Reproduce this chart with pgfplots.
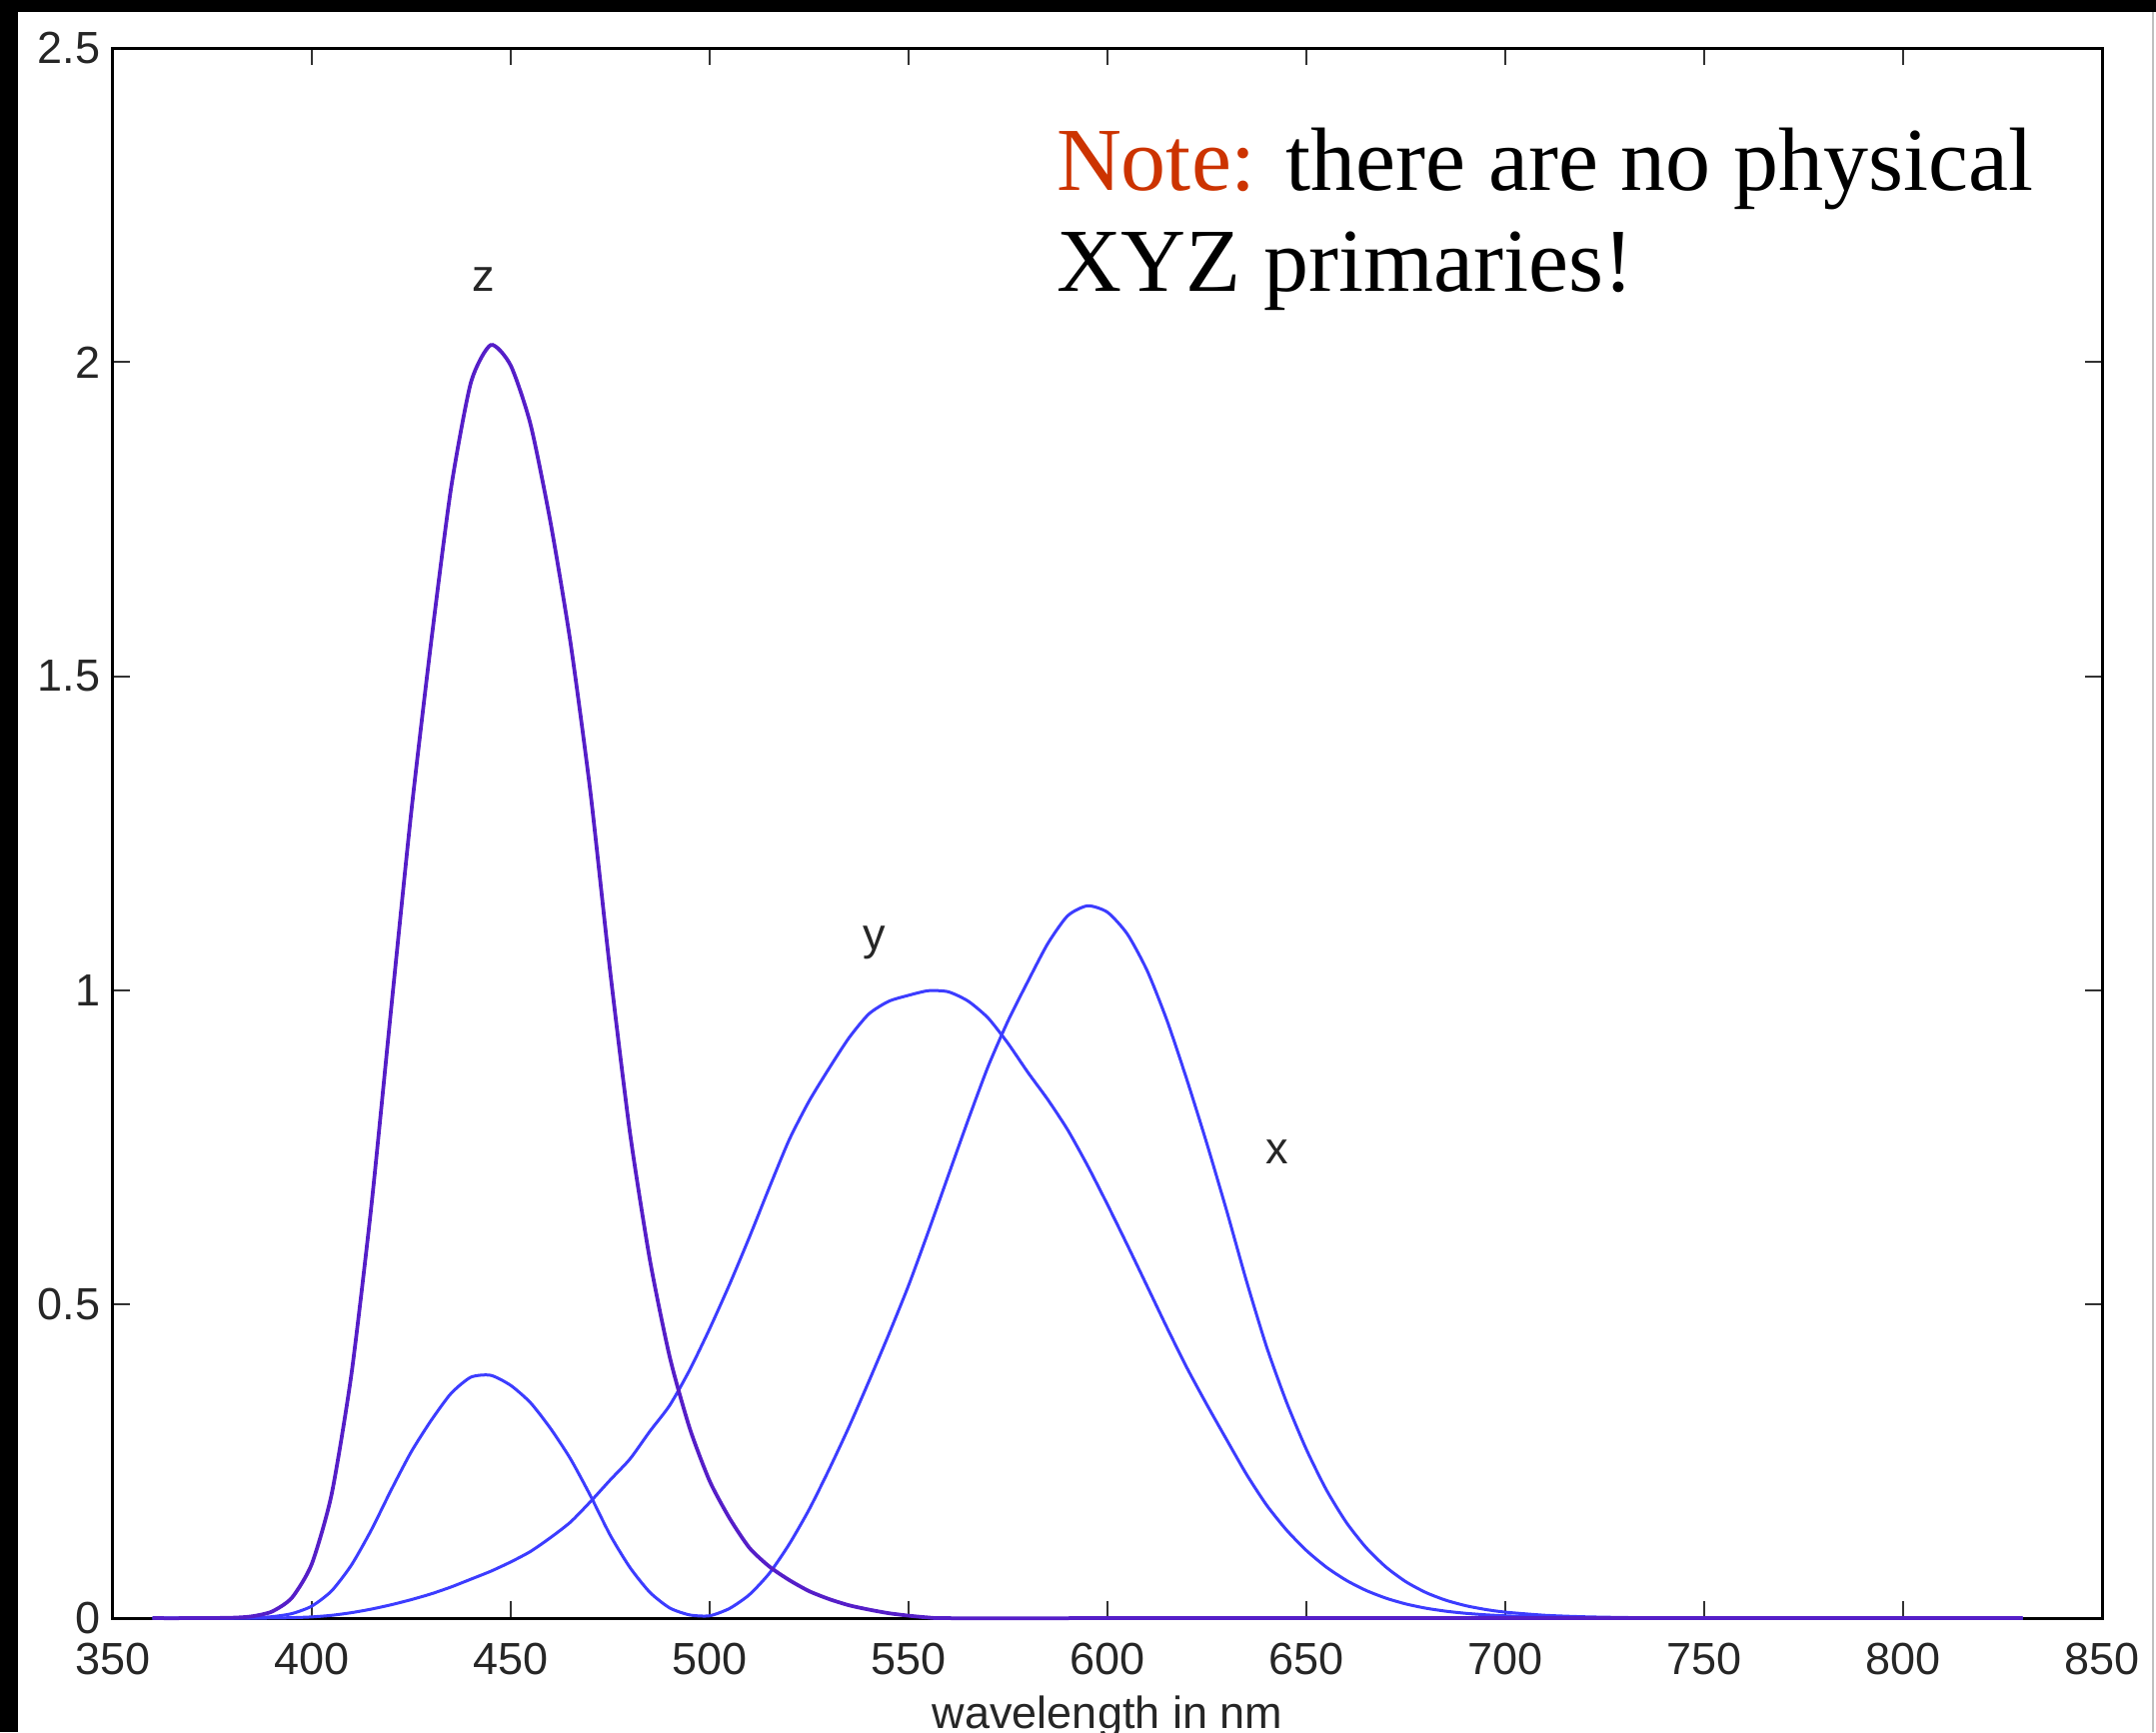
\documentclass[border=0pt]{standalone}
\usepackage{fontspec}
\setmainfont{Liberation Serif}
\newfontfamily\helv{Liberation Sans}
\usepackage{pgfplots}
\pgfplotsset{compat=1.18}
\usepackage{pgfplotstable}

\definecolor{notered}{RGB}{204,51,0}
\definecolor{zpurple}{RGB}{85,30,200}
\definecolor{cblue}{RGB}{60,60,255}

% colour matching functions (wavelength, value)
\pgfplotstableread{
lam val
360 0
370 0.000006
380 0.000160
385 0.000662
390 0.002362
395 0.007242
400 0.019110
405 0.043400
410 0.084736
415 0.140638
420 0.204492
425 0.264737
430 0.314679
435 0.357719
440 0.383734
445 0.386726
450 0.370702
455 0.342957
460 0.302273
465 0.254085
470 0.195618
475 0.132349
480 0.080507
485 0.041072
490 0.016172
495 0.005132
500 0.003816
505 0.015444
510 0.037465
515 0.071358
520 0.117749
525 0.172953
530 0.236491
535 0.304213
540 0.376772
545 0.451584
550 0.529826
555 0.616053
560 0.705224
565 0.793832
570 0.878655
575 0.951162
580 1.014160
585 1.074300
590 1.118520
595 1.134300
600 1.123990
605 1.089100
610 1.030480
615 0.950740
620 0.856297
625 0.754930
630 0.647467
635 0.535110
640 0.431567
645 0.343690
650 0.268329
655 0.204300
660 0.152568
665 0.112210
670 0.081261
675 0.057930
680 0.040851
685 0.028623
690 0.019941
695 0.013842
700 0.009577
710 0.004553
720 0.002175
730 0.001045
740 0.000508
750 0.000251
770 0.000065
790 0.000017
830 0
}\xbar

\pgfplotstableread{
lam val
360 0
370 0.000001
380 0.000017
385 0.000072
390 0.000253
395 0.000769
400 0.002004
405 0.004509
410 0.008756
415 0.014456
420 0.021391
425 0.029497
430 0.038676
435 0.049602
440 0.062077
445 0.074704
450 0.089456
455 0.106256
460 0.128201
465 0.152761
470 0.185190
475 0.219940
480 0.253589
485 0.297665
490 0.339133
495 0.395379
500 0.460777
505 0.531360
510 0.606741
515 0.685660
520 0.761757
525 0.823330
530 0.875211
535 0.923810
540 0.961988
545 0.982200
550 0.991761
555 0.999110
560 0.997340
565 0.982380
570 0.955552
575 0.915175
580 0.868934
585 0.825623
590 0.777405
595 0.720353
600 0.658341
605 0.593878
610 0.527963
615 0.461834
620 0.398057
625 0.339554
630 0.283493
635 0.228254
640 0.179828
645 0.140211
650 0.107633
655 0.081187
660 0.060281
665 0.044096
670 0.031800
675 0.022602
680 0.015905
685 0.011130
690 0.007749
695 0.005375
700 0.003718
710 0.001762
720 0.000846
730 0.000410
740 0.000200
750 0.000100
770 0.000030
830 0
}\ybar

\pgfplotstableread{
lam val
360 0
370 0.000030
380 0.000705
385 0.002928
390 0.010482
395 0.032344
400 0.086011
405 0.197120
410 0.389366
415 0.656760
420 0.972542
425 1.282500
430 1.553480
435 1.798500
440 1.967280
445 2.027300
450 1.994800
455 1.900700
460 1.745370
465 1.554900
470 1.317560
475 1.030200
480 0.772125
485 0.570060
490 0.415254
495 0.302356
500 0.218502
505 0.159249
510 0.112044
515 0.082248
520 0.060709
525 0.043050
530 0.030451
535 0.020584
540 0.013676
545 0.007918
550 0.003988
555 0.001091
560 0
600 0
700 0
830 0
}\zbar

\begin{document}
\begin{tikzpicture}
\path[use as bounding box] (0,0) rectangle (431.4pt,346.6pt);
\fill[black] (0,344.2pt) rectangle (431.4pt,346.6pt);
\fill[black] (0,0) rectangle (3.5pt,346.6pt);
\draw[black!25, line width=0.4pt] (430.8pt,0) -- (430.8pt,344.2pt);

\begin{axis}[
  at={(22.56pt,22.78pt)}, anchor=south west,
  scale only axis, width=398.1pt, height=314.2pt,
  xmin=350, xmax=850, ymin=0, ymax=2.5,
  xtick={350,400,...,850},
  ytick={0,0.5,1,1.5,2,2.5},
  yticklabels={0,0.5,1,1.5,2,2.5},
  tick align=inside, major tick length=3.4pt,
  axis line style={line width=0.6pt},
  every tick/.style={black!80, line width=0.4pt},
  /pgf/number format/assume math mode=true,
  tick label style={font=\helv\fontsize{9}{10}\selectfont, text=black!85},
  x tick label style={yshift=-1.4pt},
  y tick label style={xshift=1pt},
  xlabel={wavelength in nm},
  xlabel style={font=\helv\fontsize{9}{10}\selectfont, text=black!85,
    at={(axis description cs:0.5,0)}, anchor=base, yshift=-22pt},
  clip=false,
]
\addplot[cblue, line width=0.6pt, smooth, tension=0.4] table[x=lam, y=val] {\xbar};
\addplot[cblue, line width=0.6pt, smooth, tension=0.4] table[x=lam, y=val] {\ybar};
\addplot[zpurple, line width=0.75pt, smooth, tension=0.4] table[x=lam, y=val] {\zbar};

\node[font=\helv\fontsize{9}{10}\selectfont, text=black!85] at (axis cs:443.3,2.132) {z};
\node[font=\helv\fontsize{9}{10}\selectfont, text=black!85] at (axis cs:541.4,1.075) {y};
\node[font=\helv\fontsize{9}{10}\selectfont, text=black!85] at (axis cs:642.7,0.742) {x};
\end{axis}

\node[anchor=base west, inner sep=0, font=\fontsize{18}{20}\selectfont]
  at (211.2pt,308.6pt) {\textcolor{notered}{Note:} there are no physical};
\node[anchor=base west, inner sep=0, font=\fontsize{18}{20}\selectfont]
  at (211.2pt,288.3pt) {XYZ primaries!};
\end{tikzpicture}
\end{document}
